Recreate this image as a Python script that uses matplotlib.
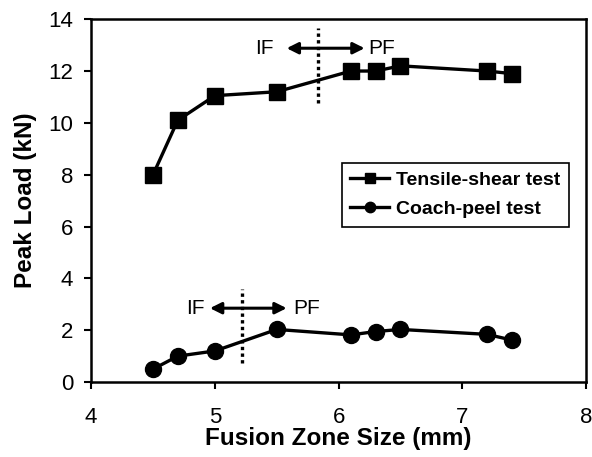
import matplotlib
matplotlib.use('Agg')
import matplotlib.pyplot as plt

plt.rcParams['font.family'] = ['Liberation Sans', 'DejaVu Sans']

# Veriler
fz_size = [4.5, 4.7, 5.0, 5.5, 6.1, 6.3, 6.5, 7.2, 7.4]
tensile_shear = [8.0, 10.1, 11.05, 11.2, 12.0, 12.0, 12.2, 12.0, 11.9]
coach_peel = [0.5, 1.0, 1.2, 2.03, 1.82, 1.95, 2.03, 1.84, 1.62]

# IF / PF geçiş bölgeleri
ts_transition = 5.83
cp_transition = 5.22

fig = plt.figure(figsize=(5.92, 4.57), dpi=100)
ax = fig.add_axes([0.154, 0.164, 0.836, 0.794])

ax.plot(fz_size, tensile_shear, color='black', lw=2.4, marker='s', ms=11.5,
        label='Tensile-shear test')
ax.plot(fz_size, coach_peel, color='black', lw=2.4, marker='o', ms=11.5,
        label='Coach-peel test')

# Kesikli dikey çizgiler ve oklar
ax.plot([ts_transition, ts_transition], [10.76, 13.65], color='black', lw=2.4, ls=(0, (1, 1)))
ax.plot([cp_transition, cp_transition], [0.73, 3.59], color='black', lw=2.4, ls=(0, (1, 1)))

arrow = dict(arrowstyle='<|-|>', color='black', lw=2.2, mutation_scale=17, shrinkA=0, shrinkB=0)
ax.annotate('', xy=(6.21, 12.88), xytext=(5.58, 12.88), arrowprops=arrow)
ax.annotate('', xy=(5.58, 2.85), xytext=(4.96, 2.85), arrowprops=arrow)
ax.text(5.40, 12.88, 'IF', fontsize=15, ha='center', va='center')
ax.text(6.35, 12.88, 'PF', fontsize=15, ha='center', va='center')
ax.text(4.84, 2.85, 'IF', fontsize=15, ha='center', va='center')
ax.text(5.74, 2.85, 'PF', fontsize=15, ha='center', va='center')

ax.set_xlim(4, 8)
ax.set_ylim(0, 14)
ax.set_xticks([4, 5, 6, 7, 8])
ax.set_yticks(range(0, 15, 2))
ax.tick_params(direction='out', length=5, width=1.5, labelsize=16)
ax.tick_params(axis='x', pad=13)
ax.tick_params(axis='y', pad=8)
for s in ax.spines.values():
    s.set_linewidth(1.8)

ax.set_xlabel('Fusion Zone Size (mm)', fontsize=17.5, fontweight='bold', labelpad=-1)
ax.set_ylabel('Peak Load (kN)', fontsize=17.5, fontweight='bold', labelpad=8)

leg = ax.legend(loc='upper left', bbox_to_anchor=(0.506, 0.605), prop={'size': 14, 'weight': 'bold'},
                fancybox=False, edgecolor='black', framealpha=1, markerscale=0.65,
                handlelength=2.0, handletextpad=0.35, borderpad=0.45, labelspacing=0.6,
                borderaxespad=0)
leg.get_frame().set_linewidth(1.2)

plt.savefig('out.png', dpi=100)
